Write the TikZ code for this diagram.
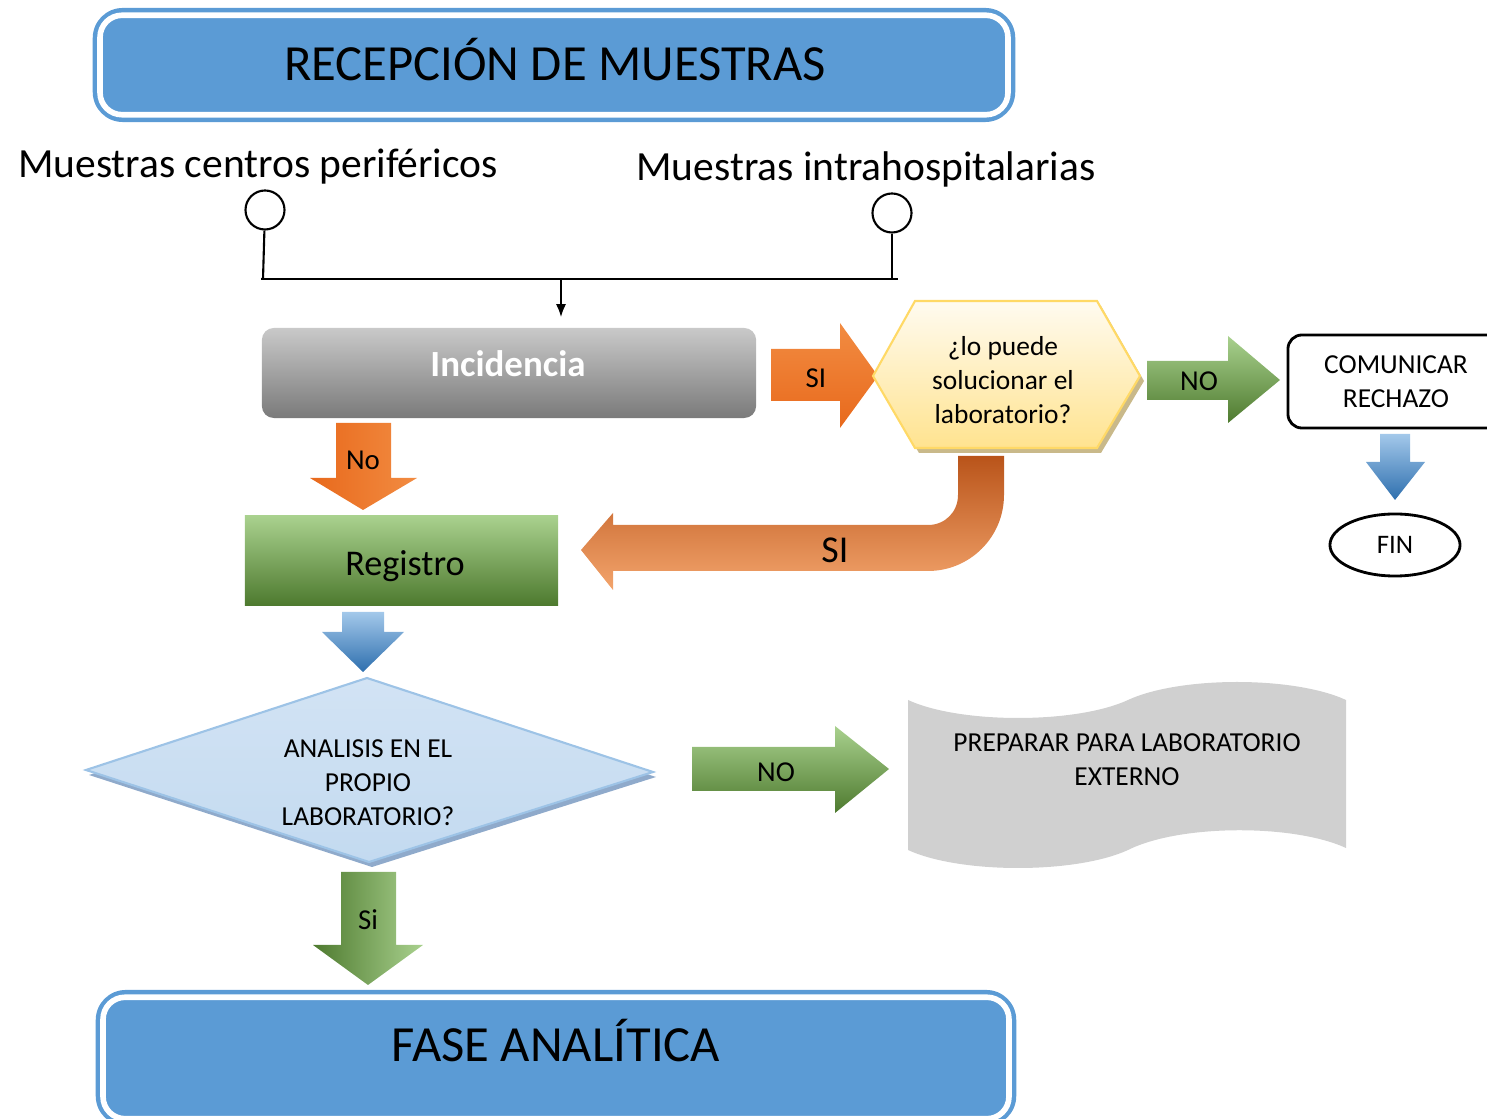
\documentclass[tikz,border=0pt]{standalone}
\usepackage{fontspec}
\setmainfont{Carlito}
\usetikzlibrary{arrows.meta,shapes.geometric}
\newcommand\myfs[2]{\fontsize{#1}{#2}\selectfont}
\definecolor{tblue}{HTML}{5B9BD5}
\definecolor{gL}{HTML}{A9D18E}
\definecolor{gM}{HTML}{70AD47}
\definecolor{gD}{HTML}{4E7A2F}
\definecolor{bL}{HTML}{A3C8EA}
\definecolor{bD}{HTML}{2E6FAE}
\definecolor{oD}{HTML}{B9541A}
\definecolor{oM}{HTML}{ED7D31}
\definecolor{oL}{HTML}{F3A46C}
\definecolor{oA}{HTML}{F28C42}
\definecolor{oB}{HTML}{E8691C}
\definecolor{incT}{HTML}{C9C9C9}
\definecolor{incB}{HTML}{7A7A7A}
\definecolor{hexT}{HTML}{FFFBF0}
\definecolor{hexB}{HTML}{FFE38F}
\definecolor{hexE}{HTML}{FFD966}
\definecolor{hexS}{HTML}{C9B98A}
\definecolor{diaT}{HTML}{D2E3F4}
\definecolor{diaM}{HTML}{E3EEF9}
\definecolor{diaB}{HTML}{C3DAF0}
\definecolor{diaE}{HTML}{9DC3E6}
\definecolor{diaS}{HTML}{8FAACB}
\definecolor{tapeG}{HTML}{D0D0D0}
\begin{document}
\begin{tikzpicture}[x=0.01cm,y=-0.01cm,
  conn/.style={line width=0.6pt, black},
  titlebox/.style={rectangle, rounded corners=0.3cm, fill=tblue, inner sep=0pt},
  innerline/.style={white, line width=1.6pt, rounded corners=0.22cm},
  arrowlbl/.style={font=\myfs{8.2}{10}, inner sep=0pt},
  qtext/.style={font=\myfs{7.8}{9.7}, align=center, inner sep=0pt},
  bigtxt/.style={font=\myfs{14.4}{17}, inner sep=0pt},
  smlabel/.style={font=\myfs{11.8}{14}, inner sep=0pt}]
\useasboundingbox (0,0) rectangle (1487,1119);
\clip (0,0) rectangle (1487,1119);

% title
\node[titlebox, minimum width=9.22cm, minimum height=1.14cm] (title) at (554,65) {};
\draw[innerline] ([shift={(8,8)}]title.north west) rectangle ([shift={(-8,-8)}]title.south east);
\node[bigtxt] (titletxt) at (555,60) {RECEPCIÓN DE MUESTRAS};

% sources
\node[smlabel] (lblA) at (258,167) {Muestras centros periféricos};
\node[smlabel] (lblB) at (866,169) {Muestras intrahospitalarias};
\node[circle, draw, line width=0.6pt, minimum size=0.39cm, inner sep=0pt] (cA) at (265,210) {};
\node[circle, draw, line width=0.6pt, minimum size=0.39cm, inner sep=0pt] (cB) at (892,213) {};
\coordinate (jA) at (263,279);
\coordinate (jB) at (892,279);
\coordinate (barL) at (261,279);
\coordinate (barR) at (898,279);
\coordinate (barM) at (561,279);
\draw[conn] (cA) -- (jA);
\draw[conn] (cB) -- (jB);
\draw[conn] (barL) -- (barR);

% Incidencia
\node[rectangle, rounded corners=0.12cm, minimum width=4.94cm, minimum height=0.9cm,
      top color=incT, bottom color=incB] (inc) at (509,373) {};
\node[white, font=\myfs{10.5}{12}\bfseries, inner sep=0pt] (inctxt) at (508,364) {Incidencia};
\draw[conn, -{Latex[length=0.13cm,width=0.1cm]}, shorten >=0.1cm] (barM) -- (barM |- inc.north);

% SI arrow orange (right)
\shade[top color=oA, bottom color=oB] (771,349) -- (840,349) -- (840,323) -- (878,376) -- (840,428) -- (840,401) -- (771,401) -- cycle;
\node[arrowlbl] (siA) at (816,378) {SI};

% hexagon
\begin{scope}[shift={(4,5)}]
\fill[hexS] (873,376) -- (915,301) -- (1097,301) -- (1140,376) -- (1097,448) -- (915,448) -- cycle;
\end{scope}
\shade[top color=hexT, bottom color=hexB, draw=hexE, line width=0.6pt] (873,376) -- (915,301) -- (1097,301) -- (1140,376) -- (1097,448) -- (915,448) -- cycle;
\node[qtext] (hextxt) at (1003,380) {¿lo puede\\solucionar el\\laboratorio?};

% NO arrow (upper)
\shade[top color=gL, middle color=gM, bottom color=gD] (1147,361) -- (1228,361) -- (1228,336) -- (1280,380) -- (1228,423) -- (1228,400) -- (1147,400) -- cycle;
\node[arrowlbl] (noA) at (1199,381) {NO};

% comunicar rechazo
\node[draw, line width=0.8pt, rounded corners=0.14cm, minimum width=2.16cm, minimum height=0.93cm, qtext] (comm) at (1396,381.5) {COMUNICAR\\RECHAZO};
\shade[top color=bL, bottom color=bD] (1380,434) -- (1410,434) -- (1410,462) -- (1425,462) -- (1395,500) -- (1366,462) -- (1380,462) -- cycle;
\node[ellipse, draw, line width=0.8pt, minimum width=1.3cm, minimum height=0.62cm, font=\myfs{7.6}{9}, inner sep=0pt] (fin) at (1395,545) {FIN};

% No arrow (down, orange)
\shade[left color=oB, right color=oA] (336,423) -- (391,423) -- (391,478) -- (417,478) -- (363,510) -- (310,478) -- (336,478) -- cycle;
\node[arrowlbl] (noB) at (363,460) {No};

% Registro
\node[rectangle, minimum width=3.13cm, minimum height=0.89cm, top color=gL, middle color=gM, bottom color=gD,
      inner sep=0pt] (reg) at (401.5,560.5) {};
\node[font=\myfs{10.3}{12}, inner sep=0pt] (regtxt) at (405,566) {Registro};

% U-shaped SI arrow
\shade[top color=oD, middle color=oM, bottom color=oL]
  (958,456) -- (1004,456) -- (1004,495) .. controls (1004,537) and (970,571) .. (928,571)
  -- (613,571) -- (613,590) -- (581,550) -- (613,513) -- (613,525) -- (928,525)
  .. controls (945,525) and (958,512) .. (958,495) -- cycle;
\node[font=\myfs{10.8}{13}, inner sep=0pt] (siB) at (835,550) {SI};

% blue arrow below Registro
\shade[top color=bL, bottom color=bD] (342,612) -- (384,612) -- (384,632) -- (404,632) -- (363,672) -- (322,632) -- (342,632) -- cycle;

% diamond
\begin{scope}[shift={(3,5)}]
\fill[diaS] (86,770) -- (367,678) -- (653,772) -- (369,862) -- cycle;
\end{scope}
\shade[top color=diaT, middle color=diaM, bottom color=diaB, draw=diaE, line width=0.6pt] (86,770) -- (367,678) -- (653,772) -- (369,862) -- cycle;
\node[qtext] (diatxt) at (368,783) {ANALISIS EN EL\\PROPIO\\LABORATORIO?};

% NO arrow (lower)
\shade[top color=gL, middle color=gM, bottom color=gD] (692,747) -- (835,747) -- (835,726) -- (889,769) -- (835,813) -- (835,791) -- (692,791) -- cycle;
\node[arrowlbl] (noC) at (776,772) {NO};

% tape
\fill[tapeG] (908,700) .. controls (960,724) and (1076,724) .. (1128,700)
  .. controls (1180,676) and (1294,676) .. (1346,700) -- (1346,848)
  .. controls (1294,824) and (1180,824) .. (1128,850)
  .. controls (1076,874) and (960,874) .. (908,850) -- cycle;
\node[qtext] (tapetxt) at (1127,760) {PREPARAR PARA LABORATORIO\\EXTERNO};

% Si arrow (down, green)
\shade[left color=gD, middle color=gM, right color=gL] (341,872) -- (396,872) -- (396,945) -- (423,945) -- (368,985) -- (313,945) -- (341,945) -- cycle;
\node[arrowlbl] (siC) at (368,920) {Si};

% fase analitica
\node[titlebox, minimum width=9.2cm, minimum height=1.36cm] (fase) at (556,1058) {};
\draw[innerline] ([shift={(8,8)}]fase.north west) rectangle ([shift={(-8,-8)}]fase.south east);
\node[bigtxt] (fasetxt) at (556,1041) {FASE ANALÍTICA};
\end{tikzpicture}
\end{document}
